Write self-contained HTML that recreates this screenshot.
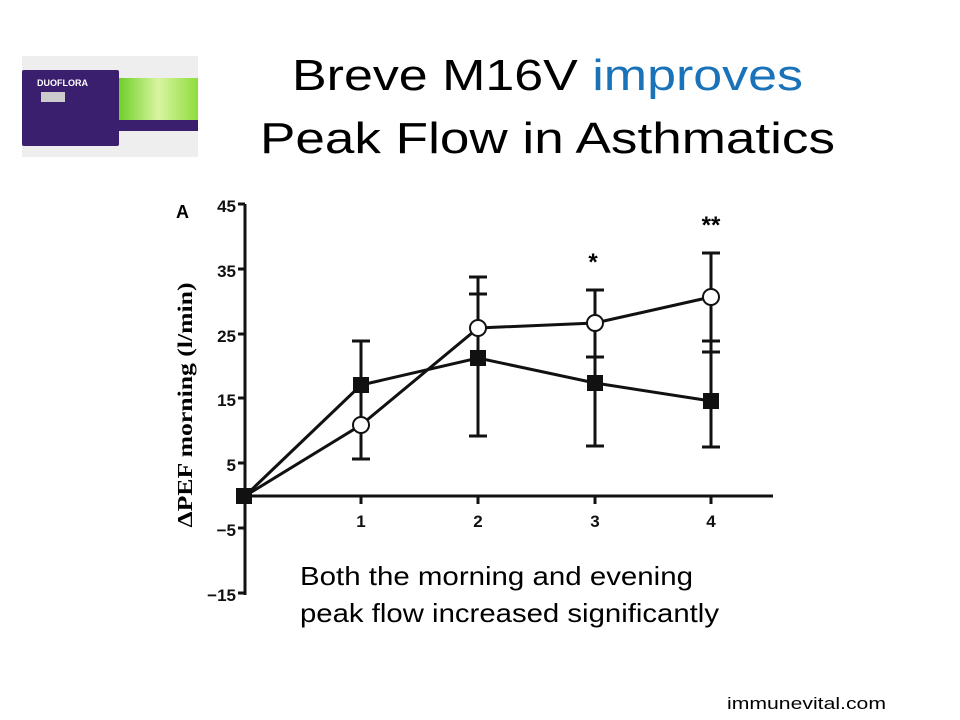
<!DOCTYPE html>
<html><head><style>
body{margin:0;background:#fff;width:960px;height:720px;overflow:hidden;font-family:"Liberation Sans",sans-serif;}
</style></head><body>
<svg width="960" height="720" xmlns="http://www.w3.org/2000/svg" style="position:absolute;left:0;top:0">
<defs><linearGradient id="g" x1="0" x2="1"><stop offset="0" stop-color="#6fcf2a"/><stop offset="0.5" stop-color="#d8f5a0"/><stop offset="1" stop-color="#8edc3e"/></linearGradient></defs>
<rect x="22" y="56" width="176" height="101" fill="#eeeeee"/>
<rect x="22" y="70" width="97" height="76" fill="#3a1f6e" rx="2"/>
<rect x="119" y="78" width="79" height="42" fill="url(#g)"/>
<rect x="119" y="120" width="79" height="11" fill="#3a1f6e"/>
<text x="37" y="86" font-size="9" fill="#fff" font-weight="bold">DUOFLORA</text>
<rect x="41" y="92" width="24" height="10" fill="#ccc"/>
<text x="292" y="90" font-size="44" fill="#000" textLength="511" lengthAdjust="spacingAndGlyphs">Breve M16V <tspan fill="#1a73b8">improves</tspan></text>
<text x="260" y="153" font-size="44" fill="#000" textLength="575" lengthAdjust="spacingAndGlyphs">Peak Flow in Asthmatics</text>
<g stroke="#111" stroke-width="3" fill="none">
<line x1="245" y1="204" x2="245" y2="595"/>
<line x1="245" y1="496" x2="773" y2="496"/>
<path d="M238 204H245M238 269H245M238 334H245M238 398H245M238 463H245M238 528H245M238 593H245"/>
<path d="M361 496v8M478 496v8M595 496v8M711 496v8"/>
</g>
<g font-size="17" font-weight="bold" fill="#111" text-anchor="end">
<text x="236" y="212">45</text><text x="236" y="277">35</text><text x="236" y="342">25</text><text x="236" y="406">15</text><text x="236" y="471">5</text><text x="236" y="536">−5</text><text x="236" y="601">−15</text>
</g>
<g font-size="17" font-weight="bold" fill="#111" text-anchor="middle">
<text x="361" y="527">1</text><text x="478" y="527">2</text><text x="595" y="527">3</text><text x="711" y="527">4</text>
</g>
<text x="176" y="218" font-size="18" font-weight="bold">A</text>
<text transform="translate(192,405) rotate(-90)" font-family="Liberation Serif,serif" font-size="21" font-weight="bold" text-anchor="middle" textLength="245" lengthAdjust="spacingAndGlyphs">ΔPEF morning (l/min)</text>
<text x="593" y="270" font-size="24" font-weight="bold" text-anchor="middle">*</text>
<text x="711" y="233" font-size="24" font-weight="bold" text-anchor="middle">**</text>
<g stroke="#111" stroke-width="3">
<path d="M361 341V459M352 341H370M352 459H370"/>
<path d="M478 277V436M469 277H487M469 294H487M469 436H487"/>
<path d="M595 290V446M586 290H604M586 357H604M586 446H604"/>
<path d="M711 253V447M702 253H720M702 341H720M702 352H720M702 447H720"/>
</g>
<g stroke="#111" stroke-width="3" fill="none">
<polyline points="245,496 361,425 478,328 595,323 711,297"/>
<polyline points="245,496 361,385 478,358 595,383 711,401"/>
</g>
<g stroke="#111" stroke-width="2" fill="#fff">
<circle cx="361" cy="425" r="8"/><circle cx="478" cy="328" r="8"/><circle cx="595" cy="323" r="8"/><circle cx="711" cy="297" r="8"/>
</g>
<g fill="#111">
<rect x="236" y="488" width="16" height="16"/><rect x="353" y="377" width="16" height="16"/><rect x="470" y="350" width="16" height="16"/><rect x="587" y="375" width="16" height="16"/><rect x="703" y="393" width="16" height="16"/>
</g>
<text x="300" y="585" font-size="26" fill="#000" textLength="393" lengthAdjust="spacingAndGlyphs">Both the morning and evening</text>
<text x="300" y="622" font-size="26" fill="#000" textLength="419" lengthAdjust="spacingAndGlyphs">peak flow increased significantly</text>
<text x="727" y="709" font-size="17" fill="#000" textLength="159" lengthAdjust="spacingAndGlyphs">immunevital.com</text>
</svg>
</body></html>
